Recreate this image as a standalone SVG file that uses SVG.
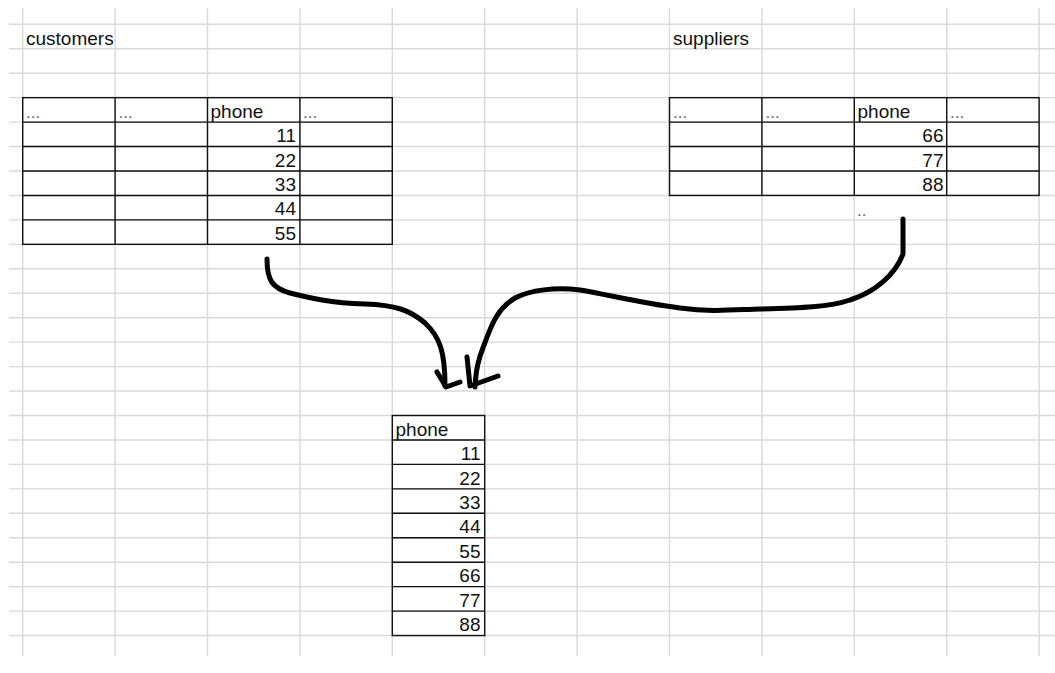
<svg xmlns="http://www.w3.org/2000/svg" width="1055" height="673" viewBox="0 0 1055 673">
<style>
.g{stroke:#d9d9d9;stroke-width:1.4;fill:none}
.t{stroke:#111;stroke-width:1.4;fill:none}
text{font-family:"Liberation Sans",Arial,sans-serif;font-size:19px;fill:#111}
.n{text-anchor:end}
.d{fill:#666;font-size:17px}
.c{stroke:#000;stroke-width:5;fill:none;stroke-linecap:round;stroke-linejoin:round}
</style>
<rect width="1055" height="673" fill="#fff"/>
<g id="grid">
<path class="g" d="M9,24.3H1055M9,48.75H1055M9,73.2H1055M9,97.65H1055M9,122.1H1055M9,146.55H1055M9,171H1055M9,195.45H1055M9,219.9H1055M9,244.35H1055M9,268.8H1055M9,293.25H1055M9,317.7H1055M9,342.15H1055M9,366.6H1055M9,391.05H1055M9,415.5H1055M9,439.95H1055M9,464.4H1055M9,488.85H1055M9,513.3H1055M9,537.75H1055M9,562.2H1055M9,586.65H1055M9,611.1H1055M9,635.55H1055"/>
<path class="g" d="M22.7,8V656M115.1,8V656M207.5,8V656M299.9,8V656M392.3,8V656M484.7,8V656M577.1,8V656M669.5,8V656M761.9,8V656M854.3,8V656M946.7,8V656M1039.1,8V656"/>
</g>
<g id="customers">
<text x="26" y="44.5">customers</text>
<rect class="t" x="22.7" y="97.65" width="369.6" height="146.7"/>
<path class="t" d="M22.7,122.1H392.3M22.7,146.55H392.3M22.7,171H392.3M22.7,195.45H392.3M22.7,219.9H392.3M115.1,97.65V244.35M207.5,97.65V244.35M299.9,97.65V244.35"/>
<text class="d" x="26" y="118">...</text>
<text class="d" x="118.5" y="118">...</text>
<text x="210.5" y="118">phone</text>
<text class="d" x="303" y="118">...</text>
<text class="n" x="296" y="142">11</text>
<text class="n" x="296" y="166.5">22</text>
<text class="n" x="296" y="191">33</text>
<text class="n" x="296" y="215.4">44</text>
<text class="n" x="296" y="239.9">55</text>
</g>
<g id="suppliers">
<text x="673" y="44.5">suppliers</text>
<rect class="t" x="669.5" y="97.65" width="369.6" height="97.8"/>
<path class="t" d="M669.5,122.1H1039.1M669.5,146.55H1039.1M669.5,171H1039.1M761.9,97.65V195.45M854.3,97.65V195.45M946.7,97.65V195.45"/>
<text class="d" x="673" y="118">...</text>
<text class="d" x="765.5" y="118">...</text>
<text x="857.5" y="118">phone</text>
<text class="d" x="950" y="118">...</text>
<text class="n" x="943.5" y="142">66</text>
<text class="n" x="943.5" y="166.5">77</text>
<text class="n" x="943.5" y="191">88</text>
<text class="d" x="857" y="215.5">..</text>
</g>
<g id="result">
<rect class="t" x="392.3" y="415.5" width="92.4" height="220.05"/>
<path class="t" d="M392.3,439.95H484.7M392.3,464.4H484.7M392.3,488.85H484.7M392.3,513.3H484.7M392.3,537.75H484.7M392.3,562.2H484.7M392.3,586.65H484.7M392.3,611.1H484.7"/>
<text x="395.5" y="435.8">phone</text>
<text class="n" x="480.5" y="460">11</text>
<text class="n" x="480.5" y="484.5">22</text>
<text class="n" x="480.5" y="509">33</text>
<text class="n" x="480.5" y="533.4">44</text>
<text class="n" x="480.5" y="557.9">55</text>
<text class="n" x="480.5" y="582.3">66</text>
<text class="n" x="480.5" y="606.8">77</text>
<text class="n" x="480.5" y="631.2">88</text>
</g>
<g id="connectors">
<path class="c" d="M267,259 C267,280 272,288 290,293 C310,298 330,303 365,304 C395,305 410,310 425,323 C440,337 445,352 445,386"/>
<path class="c" d="M437,372 L446,387 L460,382"/>
<path class="c" d="M903,219 L903,254 C895,275 875,292 850,300 C830,307 800,308 760,309 C730,310 710,312 680,308 C640,303 610,295 580,290 C555,287 530,290 515,298 C495,310 490,330 484,345 C478,360 476,370 475,387"/>
<path class="c" d="M467,357 L470,386 L498,376"/>
</g>
</svg>
